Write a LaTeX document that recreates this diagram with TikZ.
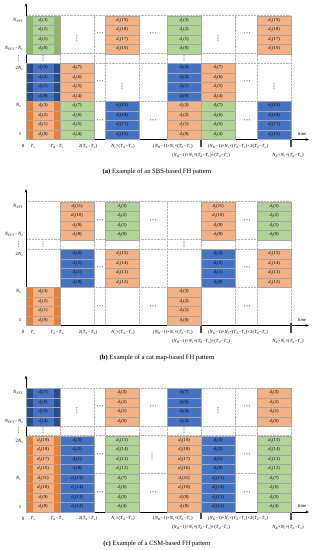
\documentclass[tikz,border=0pt]{standalone}
\usepackage{amsmath,amssymb}
\usepackage{fontspec}
\setmainfont{Liberation Serif}
\newfontfamily\dotfont{DejaVu Sans}
\usepackage{tikz}
\usetikzlibrary{arrows.meta}
\definecolor{CellGreen}{RGB}{177,212,150}
\definecolor{StripeGreen}{RGB}{138,186,102}
\definecolor{CellOrange}{RGB}{244,177,131}
\definecolor{StripeOrange}{RGB}{237,125,49}
\definecolor{CellBlue}{RGB}{68,114,196}
\definecolor{StripeBlue}{RGB}{40,76,140}
\definecolor{GridGray}{RGB}{180,180,180}
\newcommand{\fhsub}[1]{\textsubscript{\textit{#1}}}
\newcommand{\fhTd}{\textit{T}\fhsub{d}}
\newcommand{\fhTs}{\textit{T}\fhsub{s}}
\newcommand{\fhNi}{\textit{N}\fhsub{i}}
\newcommand{\fhNR}{\textit{N}\fhsub{R}}
\newcommand{\fhNs}{\textit{N}\fhsub{s}}
\newcommand{\fhNF}{\textit{N}\fhsub{FFT}}
\tikzset{
	cell/.style={draw=black!35,line width=0.3pt,minimum width=34pt,minimum height=9.5pt,
		inner sep=0pt,anchor=north west,font=\fontsize{4.6}{4.6}\selectfont},
	gcell/.style={cell,fill=CellGreen},
	ocell/.style={cell,fill=CellOrange},
	bcell/.style={cell,fill=CellBlue},
	edgestripe/.style={path picture={
		\fill[#1] (path picture bounding box.north west) rectangle ([xshift=6.5pt]path picture bounding box.south west);
		\fill[#1] (path picture bounding box.north east) rectangle ([xshift=-6.5pt]path picture bounding box.south east);}},
	gridline/.style={draw=GridGray,densely dotted,line width=0.45pt},
	axisline/.style={-{Stealth[length=3.5pt,width=2.6pt]},line width=0.7pt},
	tickline/.style={draw=black!70,line width=1.1pt},
	ylab/.style={anchor=east,inner sep=0.5pt,font=\fontsize{4.8}{5}\selectfont},
	xlab/.style={inner sep=0.5pt,font=\fontsize{4.7}{5}\selectfont},
	hdot/.style={inner sep=0pt,font=\dotfont\fontsize{7}{7}\selectfont},
	vdot/.style={inner sep=0pt,font=\dotfont\fontsize{6.5}{7}\selectfont},
	captxt/.style={font=\fontsize{6.6}{7}\selectfont},
}
% four stacked cells: x, y, style, lowest index, name
\newcommand{\fhblock}[5]{%
	\foreach \k in {0,...,3}{%
		\pgfmathtruncatemacro{\idx}{#4+3-\k}%
		\node[#3] (#5\k) at (#1,{#2+9.5*\k}) {\textit{d}\fhsub{j}(\idx)};}}
% grid, axes and axis labels of one panel
\newcommand{\fhframe}[1]{%
	\foreach \gy in {15.5,53.5,63,101}{\draw[gridline] (26,\gy) -- (291,\gy);}
	\foreach \gx in {60,94,105,139,167,201,235,257,291}{\draw[gridline] (\gx,15.5) -- (\gx,139.5);}
	\coordinate (#1o) at (26,139.5);
	\coordinate (#1top) at (26,3);
	\coordinate (#1end) at (309,139.5);
	\coordinate (#1ta) at (201,137);
	\coordinate (#1tb) at (201,146.5);
	\coordinate (#1tc) at (291,137);
	\coordinate (#1td) at (291,147);
	\draw[axisline] (#1o) -- (#1top);
	\draw[axisline] (#1o) -- (#1end);
	\draw[tickline] (#1ta) -- (#1tb);
	\draw[tickline] (#1tc) -- (#1td);
	\node[xlab,font=\fontsize{4.8}{5}\selectfont\itshape] (#1time) at (302,133.5) {time};
	\node[ylab] (#1ya) at (24,20) {\fhNF};
	\node[ylab] (#1yb) at (24,48.8) {\fhNF\,-\,\fhNs};
	\node[vdot] (#1yc) at (19,58.3) {⋮};
	\node[ylab] (#1yd) at (24,68.5) {2\fhNs};
	\node[ylab] (#1ye) at (22,105.5) {\fhNs};
	\node[ylab] (#1yf) at (22,134) {1};
	\node[xlab] (#1xa) at (23,146) {0};
	\node[xlab] (#1xb) at (33,146) {\fhTs};
	\node[xlab] (#1xc) at (57,146) {\fhTd\,-\,\fhTs};
	\node[xlab] (#1xd) at (88,146) {2(\fhTd\,-\,\fhTs)};
	\node[xlab] (#1xe) at (123,146) {\fhNi×(\fhTd\,-\,\fhTs)};
	\node[xlab] (#1xf) at (173,146) {(\fhNR−1)×\fhNi×(\fhTd−\fhTs)};
	\node[xlab] (#1xg) at (238,146) {(\fhNR−1)×\fhNi×(\fhTd−\fhTs)+2(\fhTd−\fhTs)};
	\node[xlab] (#1xh) at (201,155) {(\fhNR−1)×\fhNi×(\fhTd−\fhTs)+(\fhTd−\fhTs)};
	\node[xlab] (#1xi) at (288,155) {\fhNR×\fhNi×(\fhTd−\fhTs)};
}

\begin{document}
\begin{tikzpicture}[x=1pt,y=-1pt]
	\useasboundingbox (0,0) rectangle (315,550);
	% (a) SBS-based
	\begin{scope}
		\fhframe{a}
		\fhblock{26}{15.5}{gcell,edgestripe=StripeGreen}{0}{aA1}
		\fhblock{26}{63}{bcell,edgestripe=StripeBlue}{0}{aA2}
		\fhblock{26}{101}{ocell,edgestripe=StripeOrange}{0}{aA3}
		\fhblock{60}{63}{ocell}{4}{aB2}
		\fhblock{60}{101}{gcell}{4}{aB3}
		\fhblock{105}{15.5}{ocell}{16}{aC1}
		\fhblock{105}{101}{bcell}{16}{aC3}
		\fhblock{167}{15.5}{gcell}{0}{aD1}
		\fhblock{167}{63}{bcell}{0}{aD2}
		\fhblock{167}{101}{ocell}{0}{aD3}
		\fhblock{201}{63}{ocell}{4}{aE2}
		\fhblock{201}{101}{gcell}{4}{aE3}
		\fhblock{257}{15.5}{ocell}{16}{aF1}
		\fhblock{257}{101}{bcell}{16}{aF3}
		\node[vdot] (av1) at (43,58.3) {⋮};
		\node[vdot] (av2) at (184,58.3) {⋮};
		\node[vdot] (av3) at (77,38) {⋮};
		\node[vdot] (av4) at (218,38) {⋮};
		\node[vdot] (av5) at (122,86) {⋮};
		\node[vdot] (av6) at (274,86) {⋮};
		\node[hdot] (ah1) at (100,34) {⋯};
		\node[hdot] (ah2) at (100,82) {⋯};
		\node[hdot] (ah3) at (100,121) {⋯};
		\node[hdot] (ah4) at (153,34) {⋯};
		\node[hdot] (ah5) at (153,121) {⋯};
		\node[hdot] (ah6) at (247,34) {⋯};
		\node[hdot] (ah7) at (247,82) {⋯};
		\node[hdot] (ah8) at (247,121) {⋯};
		\node[captxt] (acap) at (157,172) {\textbf{(a)} Example of an SBS-based FH pattern};
	\end{scope}
	% (b) cat map-based
	\begin{scope}[shift={(0,186)}]
		\fhframe{b}
		\fhblock{26}{101}{ocell,edgestripe=StripeOrange}{0}{bA3}
		\fhblock{60}{15.5}{ocell}{8}{bB1}
		\fhblock{60}{63}{bcell}{0}{bB2}
		\fhblock{105}{15.5}{gcell}{0}{bC1}
		\fhblock{105}{63}{ocell}{12}{bC2}
		\fhblock{167}{101}{ocell}{0}{bD3}
		\fhblock{201}{15.5}{ocell}{8}{bE1}
		\fhblock{201}{63}{bcell}{0}{bE2}
		\fhblock{257}{15.5}{gcell}{0}{bF1}
		\fhblock{257}{63}{ocell}{12}{bF2}
		\node[vdot] (bv1) at (43,58.3) {⋮};
		\node[vdot] (bv2) at (184,58.3) {⋮};
		\node[hdot] (bh1) at (100,35) {⋯};
		\node[hdot] (bh2) at (100,82) {⋯};
		\node[hdot] (bh3) at (100,121) {⋯};
		\node[hdot] (bh4) at (153,35) {⋯};
		\node[hdot] (bh5) at (153,121) {⋯};
		\node[hdot] (bh6) at (247,35) {⋯};
		\node[hdot] (bh7) at (247,82) {⋯};
		\node[hdot] (bh8) at (247,121) {⋯};
		\node[captxt] (bcap) at (157,172) {\textbf{(b)} Example of a cat map-based FH pattern};
	\end{scope}
	% (c) CSM-based
	\begin{scope}[shift={(0,372.5)}]
		\fhframe{c}
		\fhblock{26}{15.5}{bcell,edgestripe=StripeBlue}{4}{cA1}
		\fhblock{26}{63}{ocell,edgestripe=StripeOrange}{16}{cA2}
		\fhblock{26}{101}{ocell,edgestripe=StripeOrange}{8}{cA3}
		\fhblock{60}{63}{bcell}{0}{cB2}
		\fhblock{60}{101}{bcell}{12}{cB3}
		\fhblock{105}{15.5}{ocell}{0}{cC1}
		\fhblock{105}{63}{gcell}{12}{cC2}
		\fhblock{105}{101}{gcell}{4}{cC3}
		\fhblock{167}{15.5}{bcell}{4}{cD1}
		\fhblock{167}{63}{ocell}{16}{cD2}
		\fhblock{167}{101}{ocell}{8}{cD3}
		\fhblock{201}{63}{bcell}{0}{cE2}
		\fhblock{201}{101}{bcell}{12}{cE3}
		\fhblock{257}{15.5}{ocell}{0}{cF1}
		\fhblock{257}{63}{gcell}{12}{cF2}
		\fhblock{257}{101}{gcell}{4}{cF3}
		\node[vdot] (cv1) at (43,58.3) {⋮};
		\node[vdot] (cv2) at (184,58.3) {⋮};
		\node[vdot] (cv3) at (77,38) {⋮};
		\node[vdot] (cv4) at (218,38) {⋮};
		\node[vdot] (cv5) at (152,84) {⋮};
		\node[hdot] (ch1) at (100,35) {⋯};
		\node[hdot] (ch2) at (100,83) {⋯};
		\node[hdot] (ch3) at (100,121) {⋯};
		\node[hdot] (ch4) at (153,35) {⋯};
		\node[hdot] (ch5) at (153,121) {⋯};
		\node[hdot] (ch6) at (247,35) {⋯};
		\node[hdot] (ch7) at (247,83) {⋯};
		\node[hdot] (ch8) at (247,121) {⋯};
		\node[captxt] (ccap) at (157,171) {\textbf{(c)} Example of a CSM-based FH pattern};
	\end{scope}
\end{tikzpicture}
\end{document}
